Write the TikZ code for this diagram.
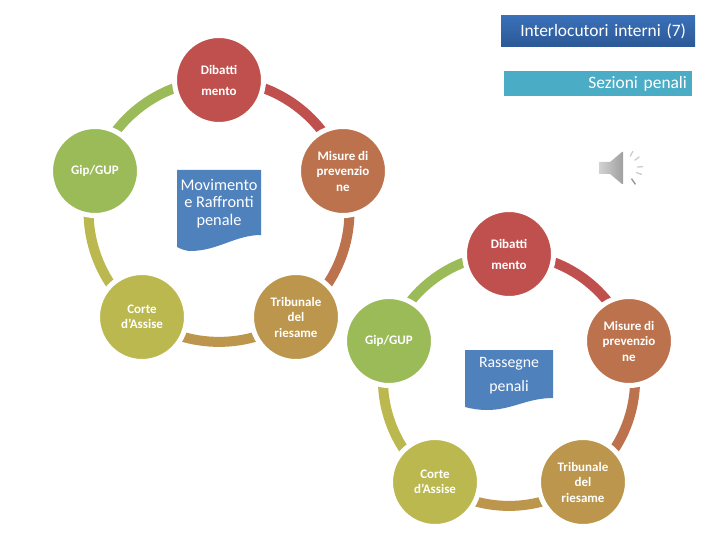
\documentclass[tikz,border=0pt]{standalone}
\usepackage{fontspec}
\setmainfont{Carlito}
\usetikzlibrary{backgrounds}
\definecolor{dibRed}{HTML}{C0504D}
\definecolor{misBrown}{HTML}{BC734D}
\definecolor{tribTan}{HTML}{BB964C}
\definecolor{corOlive}{HTML}{BBB84F}
\definecolor{gipGreen}{HTML}{9BBB59}
\definecolor{docBlue}{HTML}{4F81BD}
\definecolor{barTop}{HTML}{3A70B8}
\definecolor{barBottom}{HTML}{2C5896}
\definecolor{bannerTeal}{HTML}{4BACC6}

\begin{document}
\begin{tikzpicture}[
		x=1pt, y=-1pt,
		% Coloured circle of a cycle, with a white rim that cuts the ring
		stage/.style={
			circle,
			fill=#1,
			draw=white,
			line width=5pt,
			minimum size=89pt,
			inner sep=0pt,
			text=white,
			align=center,
			font=\bfseries\fontsize{13}{15.5}\selectfont
		},
		% Ring piece between two circles
		ring/.style={
			draw=#1,
			line width=10pt,
			bend left=36,
			looseness=0.94
		},
		% Heading bars
		bar/.style={
			minimum height=#1,
			inner sep=0pt,
			text=white,
			align=right,
			font=\fontsize{17.4}{18}\selectfont
		},
		% Text on a wavy sheet
		sheet text/.style={
			text=white,
			align=center,
			inner sep=0pt
		},
		ray/.style={
			line width=1.3pt,
			color=#1
		}
		]
		
		\useasboundingbox (0,0) rectangle (720,540);
		
		% --- Heading Bars ---
		\node[bar=31pt, text width=176pt, inner xsep=9pt, top color=barTop, bottom color=barBottom] (interni) at (598,31.5) {Interlocutori interni (7)};
		\node[bar=25pt, text width=178pt, inner xsep=5pt, fill=bannerTeal] (sezioni) at (598,83.5) {Sezioni penali};
		
		% --- First Cycle ---
		\node[stage=dibRed] (dibA) at (219,80) {Dibatti\\[5.5pt]mento};
		\node[stage=misBrown] (misA) at (343,171) {Misure di\\prevenzio\\ne};
		\node[stage=tribTan] (tribA) at (296,317) {Tribunale\\del\\riesame};
		\node[stage=corOlive] (corA) at (142,317) {Corte\\d’Assise};
		\node[stage=gipGreen] (gipA) at (95,171) {Gip/GUP};
		
		% --- Second Cycle ---
		\node[stage=dibRed] (dibB) at (509,254) {Dibatti\\[5.5pt]mento};
		\node[stage=misBrown] (misB) at (629,341) {Misure di\\prevenzio\\ne};
		\node[stage=tribTan] (tribB) at (583,482) {Tribunale\\del\\riesame};
		\node[stage=corOlive] (corB) at (435,482) {Corte\\d’Assise};
		\node[stage=gipGreen] (gipB) at (389,341) {Gip/GUP};
		
		% --- Ring Pieces ---
		\begin{scope}[on background layer]
			\foreach \cyc in {A,B} {
				\draw[ring=dibRed] (dib\cyc.center) to (mis\cyc.center);
				\draw[ring=misBrown] (mis\cyc.center) to (trib\cyc.center);
				\draw[ring=tribTan] (trib\cyc.center) to (cor\cyc.center);
				\draw[ring=corOlive] (cor\cyc.center) to (gip\cyc.center);
				\draw[ring=gipGreen] (gip\cyc.center) to (dib\cyc.center);
			}
		\end{scope}
		
		% --- Wavy Sheets ---
		\fill[docBlue] (177,170) -- (261,170) -- (261,235) .. controls (235,235) and (218,251) .. (190,251) .. controls (186,251) and (181,249) .. (177,247) -- cycle;
		\node[sheet text, font=\fontsize{16.3}{17.5}\selectfont] (movimento) at (219,203.5) {Movimento\\e Raffronti\\penale};
		
		\fill[docBlue] (465,350) -- (553,350) -- (553,398) .. controls (527,398) and (512,410) .. (487,410) .. controls (480,410) and (472,409) .. (465,407) -- cycle;
		\node[sheet text, font=\fontsize{15.8}{24}\selectfont] (rassegne) at (509,376) {Rassegne\\penali};
		
		% --- Speaker ---
		\shade[left color=gray!35, right color=gray!75] (599,162) -- (610,162) -- (622,152) -- (623,152) -- (623,184) -- (622,184) -- (610,174) -- (599,174) -- cycle;
		\foreach \ang in {-62,-36,-4,20} {
			\draw[ray=gray!40] (624,168) ++(\ang:13) -- ++(\ang:6);
		}
		\draw[ray=gray!85] (624,168) ++(55:13) -- ++(55:7);
		
	\end{tikzpicture}
\end{document}
